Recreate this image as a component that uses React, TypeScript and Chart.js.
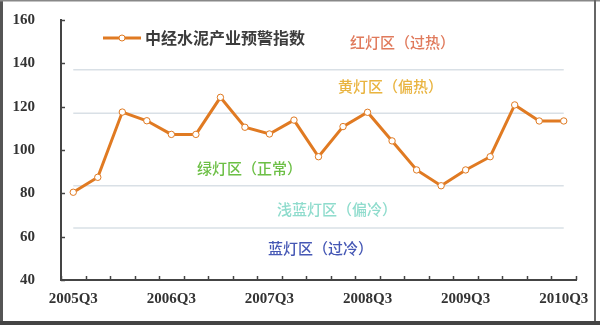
import React, { useEffect, useRef } from "react";
import { Chart, registerables } from "chart.js";

Chart.register(...registerables);

const quarters = [
  "2005Q3", "2005Q4", "2006Q1", "2006Q2", "2006Q3", "2006Q4", "2007Q1", "2007Q2",
  "2007Q3", "2007Q4", "2008Q1", "2008Q2", "2008Q3", "2008Q4", "2009Q1", "2009Q2",
  "2009Q3", "2009Q4", "2010Q1", "2010Q2", "2010Q3",
];
const indexValues = [
  80.5, 87.4, 117.5, 113.5, 107.2, 107.2, 124.3, 110.5, 107.4, 113.8, 96.9,
  110.8, 117.4, 104.2, 90.8, 83.5, 90.8, 96.9, 120.8, 113.4, 113.4,
];
const thresholds = [137, 117, 83.5, 64];
const seriesName = "中经水泥产业预警指数";
const zoneLabels = ["红灯区（过热）", "黄灯区（偏热）", "绿灯区（正常）", "浅蓝灯区（偏冷）", "蓝灯区（过冷）"];
const zoneColors = ["#e07a5c", "#e9b440", "#6cbf45", "#8fdccd", "#4658b5"];
const zonePos = [
  [350, 42],
  [338, 86],
  [197, 168],
  [277, 209],
  [268, 248],
];
const yMin = 40;
const yMax = 160;
const yStep = 20;

const LINE = "#e07a22";
const AXIS = "#444";

const decorPlugin = {
  id: "decor",
  beforeDraw(chart: any) {
    const ctx = chart.ctx;
    ctx.save();
    ctx.fillStyle = "#fff";
    ctx.fillRect(0, 0, chart.width, chart.height);
    ctx.restore();
  },
  afterDraw(chart: any) {
    const ctx = chart.ctx;
    const xs = chart.scales.x;
    const ys = chart.scales.y;
    const area = chart.chartArea;
    ctx.save();
    ctx.strokeStyle = AXIS;
    ctx.lineWidth = 1.5;
    for (let v = yMin; v <= yMax; v += yStep) {
      const py = Math.round(ys.getPixelForValue(v)) + 0.5;
      ctx.beginPath();
      ctx.moveTo(area.left, py);
      ctx.lineTo(area.left + 4, py);
      ctx.stroke();
    }
    const n = quarters.length;
    const sp = xs.getPixelForValue(1) - xs.getPixelForValue(0);
    for (let i = 0; i <= n; i++) {
      const px = i < n ? xs.getPixelForValue(i) - sp / 2 : xs.getPixelForValue(n - 1) + sp / 2;
      const rx = Math.round(px) + 0.5;
      ctx.beginPath();
      ctx.moveTo(rx, area.bottom);
      ctx.lineTo(rx, area.bottom - 4);
      ctx.stroke();
    }
    const ly = 38;
    ctx.strokeStyle = LINE;
    ctx.lineWidth = 3;
    ctx.beginPath();
    ctx.moveTo(103, ly);
    ctx.lineTo(141, ly);
    ctx.stroke();
    ctx.beginPath();
    ctx.arc(122, ly, 3, 0, Math.PI * 2);
    ctx.fillStyle = "#fff";
    ctx.fill();
    ctx.lineWidth = 1;
    ctx.stroke();
    ctx.fillStyle = "#3c3c3c";
    ctx.font = "bold 16px 'Noto Sans CJK SC'";
    ctx.textBaseline = "middle";
    ctx.textAlign = "left";
    ctx.fillText(seriesName, 145, ly);
    ctx.font = "500 15px 'Noto Sans CJK SC'";
    zoneLabels.forEach((t, i) => {
      ctx.fillStyle = zoneColors[i];
      ctx.fillText(t, zonePos[i][0], zonePos[i][1]);
    });
    ctx.fillStyle = "#555";
    ctx.fillRect(0, 0, 3, chart.height);
    ctx.fillStyle = "#888";
    ctx.fillRect(0, 0, chart.width, 1.5);
    ctx.fillStyle = "#666";
    ctx.fillRect(594, 0, 2, chart.height);
    ctx.fillStyle = "#444";
    ctx.fillRect(0, 321, chart.width, 4);
    ctx.restore();
  },
};

export default function App() {
  const ref = useRef<HTMLCanvasElement | null>(null);
  useEffect(() => {
    document.body.style.margin = "0";
    const canvas = ref.current;
    if (!canvas) return;
    const datasets: any[] = [
      {
        label: seriesName,
        data: indexValues,
        borderColor: LINE,
        borderWidth: 3,
        pointRadius: 3.2,
        pointBackgroundColor: "#fff",
        pointBorderColor: LINE,
        pointBorderWidth: 1,
        tension: 0,
      },
      ...thresholds.map((t, i) => ({
        label: "zone" + i,
        data: quarters.map(() => t),
        borderColor: "#d9e0e6",
        borderWidth: 1.5,
        pointRadius: 0,
        tension: 0,
      })),
    ];
    const chart = new Chart(canvas, {
      type: "line",
      data: { labels: quarters, datasets },
      options: {
        responsive: false,
        animation: false,
        devicePixelRatio: 1,
        layout: { padding: { left: 0, right: 24, top: 20, bottom: 0 } },
        plugins: { legend: { display: false }, tooltip: { enabled: false } },
        scales: {
          x: {
            type: "category",
            offset: true,
            grid: { display: false, drawTicks: false, offset: true },
            border: { display: true, color: AXIS, width: 2 },
            ticks: {
              autoSkip: false,
              maxRotation: 0,
              padding: 10,
              color: "#333",
              font: { family: "'Liberation Serif'", size: 15, weight: "bold" },
              callback: (_v: any, i: number) => (i % 4 === 0 ? quarters[i] : ""),
            },
            afterFit: (s: any) => {
              s.height = 45;
            },
          },
          y: {
            min: yMin,
            max: yMax,
            grid: { display: false, drawTicks: false },
            border: { display: true, color: AXIS, width: 2 },
            ticks: {
              stepSize: yStep,
              padding: 26,
              color: "#333",
              font: { family: "'Liberation Serif'", size: 15, weight: "bold" },
            },
            afterFit: (s: any) => {
              s.width = 61;
              s.paddingTop = 9;
              s.paddingBottom = 9;
            },
          },
        },
      } as any,
      plugins: [decorPlugin],
    });
    return () => chart.destroy();
  }, []);
  return <canvas ref={ref} width={600} height={325} style={{ display: "block" }} />;
}
